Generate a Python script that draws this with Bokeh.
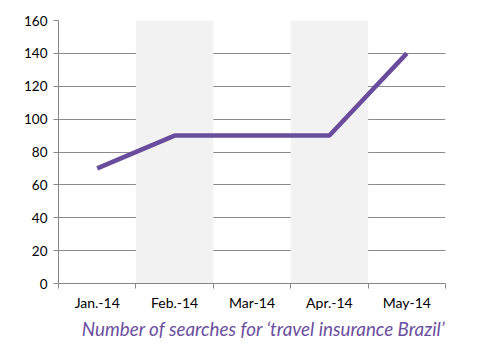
from bokeh.plotting import figure
from bokeh.models import FixedTicker, Range1d, Title, BoxAnnotation
from bokeh.embed import file_html
from bokeh.resources import INLINE

months = ["Jan.-14", "Feb.-14", "Mar-14", "Apr.-14", "May-14"]
searches = [70, 90, 90, 90, 140]
y_ticks = [0, 20, 40, 60, 80, 100, 120, 140, 160]
title_text = "Number of searches for \u2018travel insurance Brazil\u2019"

xs = [i + 0.5 for i in range(len(months))]

p = figure(width=481, height=351, output_backend="svg", toolbar_location=None,
           x_range=Range1d(0, len(months)), y_range=Range1d(0, 160),
           min_border_left=58, min_border_right=36, min_border_top=20, min_border_bottom=68)
p.outline_line_color = None
p.background_fill_color = "white"
p.border_fill_color = "white"

for i in range(1, len(months), 2):
    p.add_layout(BoxAnnotation(left=i, right=i + 1, fill_color="#f2f2f2", fill_alpha=1,
                               line_color=None, level="underlay"))

p.line(xs, searches, line_color="#6a4c9c", line_width=4.5)

p.xgrid.visible = False
p.ygrid.ticker = FixedTicker(ticks=y_ticks)
p.ygrid.grid_line_color = "#8c8c8c"
p.ygrid.grid_line_width = 1

p.yaxis.ticker = FixedTicker(ticks=y_ticks)
p.yaxis.axis_line_color = "#868686"
p.yaxis.major_tick_line_color = "#868686"
p.yaxis.major_tick_out = 5
p.yaxis.major_tick_in = 0
p.yaxis.minor_tick_line_color = None
p.yaxis.major_label_text_font = "Lato"
p.yaxis.major_label_text_font_size = "13.5px"
p.yaxis.major_label_text_color = "#000000"
p.yaxis.major_label_standoff = 6

p.xaxis.ticker = FixedTicker(ticks=xs, minor_ticks=list(range(len(months) + 1)))
p.xaxis.major_label_overrides = {x: m for x, m in zip(xs, months)}
p.xaxis.axis_line_color = "#868686"
p.xaxis.major_tick_line_color = None
p.xaxis.minor_tick_line_color = "#868686"
p.xaxis.minor_tick_out = 5
p.xaxis.minor_tick_in = 0
p.xaxis.major_label_text_font = "Lato"
p.xaxis.major_label_text_font_size = "14px"
p.xaxis.major_label_text_color = "#000000"
p.xaxis.major_label_standoff = 4

p.add_layout(Title(text=title_text, align="right", text_font="Lato",
                   text_font_style="italic", text_font_size="18.8px",
                   text_color="#6b4f9e", standoff=2), "below")

open("out.html", "w").write(file_html(p, INLINE))
